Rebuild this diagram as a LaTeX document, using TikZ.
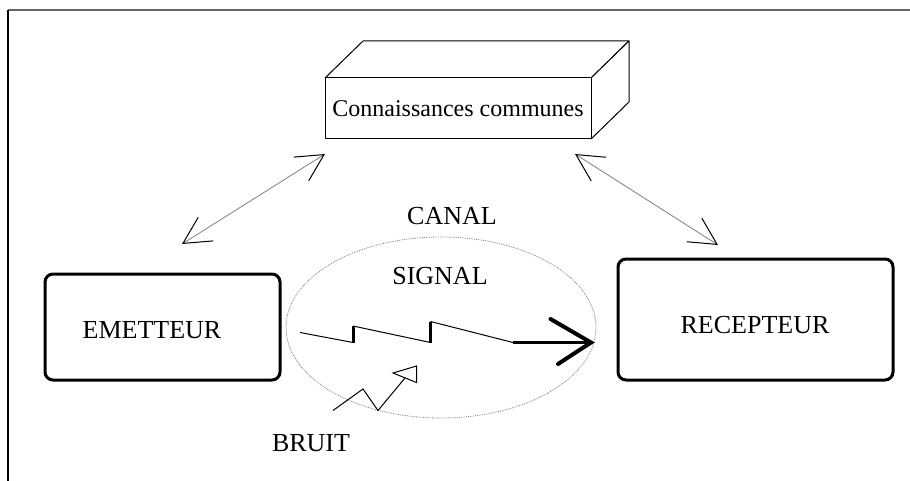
\documentclass[tikz,border=0pt]{standalone}
\usepackage{fontspec}
\setmainfont{Liberation Serif}
\usetikzlibrary{arrows.meta,calc,shapes.geometric}
\begin{document}
\begin{tikzpicture}[x=1pt,y=-1pt,
  lbl/.style={inner sep=0pt,font=\fontsize{26}{30}\selectfont},
  roundbox/.style={draw,line width=3pt,rounded corners=8pt},
  thinedge/.style={draw,line width=1pt,line join=round},
  link/.style={draw=gray,line width=0.8pt,
    {Straight Barb[length=27pt,width=28pt,color=black,line width=1pt]}-{Straight Barb[length=27pt,width=28pt,color=black,line width=1pt]}},
  thickseg/.style={line width=3pt},
]
\useasboundingbox (0,0) rectangle (910,481);
\fill[white] (0,0) rectangle (910,481);

% page frame
\draw[gray!80!black,line width=2pt] (8,10.5) -- (910,10.5);
\draw[line width=1.5pt] (8,10) -- (8,481);

% shared knowledge block drawn as a 3D box
\coordinate (kFL) at (325,78);
\coordinate (kFR) at (591,78);
\coordinate (kBR) at (591,139);
\coordinate (kBL) at (325,139);
\draw[thinedge,fill=white] (kFL) -- ++(38,-37) -- ($(kFR)+(38,-37)$) -- (kFR) -- cycle;
\draw[thinedge,fill=white] (kFR) -- ++(38,-37) -- ($(kBR)+(38,-37)$) -- (kBR) -- cycle;
\draw[thinedge,fill=white] (kFL) rectangle (kBR);
\node[lbl,font=\fontsize{24}{28}\selectfont] (know) at (458,108.5) {Connaissances communes};

% sender and receiver
\draw[roundbox] (45,274) rectangle (280,380);
\node[lbl] (emet) at (152,330) {EMETTEUR};
\draw[roundbox] (618,259) rectangle (893,380);
\node[lbl] (recep) at (755,325) {RECEPTEUR};

% channel
\node[draw=gray,densely dotted,line width=0.8pt,ellipse,minimum width=310pt,minimum height=181pt,inner sep=0pt] (canal) at (441,327.5) {};
\node[lbl] (canallbl) at (452,216) {CANAL};
\node[lbl] (signallbl) at (440,276.5) {SIGNAL};
\node[lbl] (bruitlbl) at (311,443) {BRUIT};

% links to shared knowledge
\coordinate (kl) at (325,154);
\coordinate (el) at (182,244);
\coordinate (kr) at (575,154);
\coordinate (rl) at (718,245);
\draw[link] (el) -- (kl);
\draw[link] (kr) -- (rl);

% signal zigzag
\coordinate (s0) at (300,332.5);
\coordinate (s1) at (353,342.5);
\coordinate (s2) at (353,326);
\coordinate (s3) at (430.5,342.5);
\coordinate (s4) at (430.5,321.5);
\coordinate (s5) at (513,342.5);
\coordinate (s6) at (591,342.5);
\draw[line width=1pt] (s0) -- (s1);
\draw[thickseg] (s1) -- (s2);
\draw[line width=1pt] (s2) -- (s3);
\draw[thickseg] (s3) -- (s4);
\draw[line width=1pt] (s4) -- (s5);
\draw[thickseg] (s5) -- (s6);
\draw[line width=4pt,line cap=round,line join=miter] (550.5,319) -- (s6) -- (558,364);

% noise
\coordinate (b0) at (333,410.5);
\coordinate (b1) at (363,389);
\coordinate (b2) at (378,410.5);
\coordinate (b3) at (405,378);
\draw[line width=1pt,line join=miter] (b0) -- (b1) -- (b2) -- (b3);
\draw[line width=1pt,line join=miter] (393,373) -- (416.5,366) -- (416.5,382.5) -- cycle;
\end{tikzpicture}
\end{document}
